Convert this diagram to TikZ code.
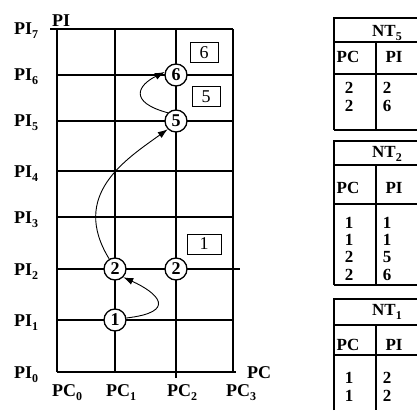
\documentclass[tikz,border=0pt]{standalone}
\usepackage{fontspec}
\setmainfont{Liberation Serif}
\usetikzlibrary{
  arrows.meta,
  positioning
}
\newcommand{\subidx}[1]{\raisebox{-4pt}{\fontsize{12}{12}\selectfont #1}}
\tikzset{
  gridline/.style={line width=1.1pt},
  statenode/.style={draw,circle,line width=1.3pt,fill=white,inner sep=0pt,minimum size=22pt,font=\fontsize{18}{18}\selectfont\bfseries},
  tagnode/.style={draw,line width=1pt,minimum width=28pt,minimum height=20pt,inner sep=0pt,font=\fontsize{18}{18}\selectfont},
  axislabel/.style={font=\fontsize{18}{18}\selectfont\bfseries,inner sep=0pt},
  tablabel/.style={font=\fontsize{17}{17}\selectfont\bfseries,inner sep=0pt,text height=11pt,text depth=0pt},
  tabline/.style={line width=1.1pt},
  flow/.style={-{Latex[length=10pt,width=7pt]},line width=0.9pt}
}
\begin{document}
\begin{tikzpicture}[x=1pt,y=1pt]
\useasboundingbox (0,0) rectangle (417,410);
% grid
\draw[gridline] (50,381) -- (233,381);
\foreach \y in {90,193,239,289} \draw[gridline] (57,\y) -- (233,\y);
\draw[gridline] (57,335) -- (232,335);
\draw[gridline] (57,141) -- (240,141);
\draw[gridline] (57,38) -- (236,38);
\foreach \x in {57,115,233} \draw[gridline] (\x,38) -- (\x,381);
\draw[gridline] (176,32) -- (176,381);
% axis labels
\foreach \i/\y in {0/38,1/90,2/141,3/193,4/239,5/289,6/335,7/381}
  \node[axislabel,anchor=base west] (pi\i) at (14,\y-6) {PI\subidx{\i}};
\foreach \i/\x in {0/52,1/106,2/167,3/226}
  \node[axislabel,anchor=base west] (pc\i) at (\x,14) {PC\subidx{\i}};
\node[axislabel,anchor=base west] (pcaxis) at (247,32) {PC};
\node[axislabel,anchor=base west] (piaxis) at (52,383) {PI};
% states
\node[statenode] (s1) at (115,90) {1};
\node[statenode] (s2a) at (115,141) {2};
\node[statenode] (s2b) at (176,141) {2};
\node[statenode] (s5) at (176,289) {5};
\node[statenode] (s6) at (176,335) {6};
\node[tagnode] (t6) at (204,357) {6};
\node[tagnode] (t5) at (206,313) {5};
\node[tagnode,minimum width=34pt] (t1) at (204,166) {1};
\draw[flow] (s1.10) .. controls (178,98) and (158,117) .. (s2a.-45);
\draw[flow] (s2a.120) .. controls (70,215) and (125,250) .. (s5.-135);
\draw[flow] (s5.135) .. controls (128,308) and (138,325) .. (s6.165);
% NT5
\draw[tabline] (334,280) -- (334,392) -- (417,392);
\draw[tabline] (334,368) -- (417,368);
\draw[tabline] (334,336) -- (417,336);
\draw[tabline] (334,280) -- (417,280);
\draw[tabline] (376,368) -- (376,280);
\node[tablabel,anchor=base west] (nt5) at (372,373) {NT\subidx{5}};
\node[tablabel,anchor=base] (pc5) at (348,347) {PC};
\node[tablabel,anchor=base] (pi5) at (394,347) {PI};
\foreach \r/\a/\b/\y in {1/2/2/316,2/2/6/298}{
  \node[tablabel,anchor=base] (a5\r) at (349,\y) {\a};
  \node[tablabel,anchor=base] (b5\r) at (387,\y) {\b};
}
% NT2
\draw[tabline] (334,125) -- (334,269) -- (417,269);
\draw[tabline] (334,245) -- (417,245);
\draw[tabline] (334,206) -- (417,206);
\draw[tabline] (334,125) -- (417,125);
\draw[tabline] (376,245) -- (376,125);
\node[tablabel,anchor=base west] (nt2) at (372,252) {NT\subidx{2}};
\node[tablabel,anchor=base] (pc2) at (348,217) {PC};
\node[tablabel,anchor=base] (pi2) at (394,217) {PI};
\foreach \r/\a/\b/\y in {1/1/1/182,2/1/1/165,3/2/5/148,4/2/6/130}{
  \node[tablabel,anchor=base] (a2\r) at (349,\y) {\a};
  \node[tablabel,anchor=base] (b2\r) at (387,\y) {\b};
}
% NT1
\draw[tabline] (334,0) -- (334,111) -- (417,111);
\draw[tabline] (334,85) -- (417,85);
\draw[tabline] (334,55) -- (417,55);
\draw[tabline] (376,85) -- (376,0);
\node[tablabel,anchor=base west] (nt1) at (372,95) {NT\subidx{1}};
\node[tablabel,anchor=base] (pc1) at (348,60) {PC};
\node[tablabel,anchor=base] (pi1) at (394,60) {PI};
\foreach \r/\a/\b/\y in {1/1/2/27,2/1/2/9}{
  \node[tablabel,anchor=base] (a1\r) at (349,\y) {\a};
  \node[tablabel,anchor=base] (b1\r) at (387,\y) {\b};
}
\end{tikzpicture}
\end{document}
